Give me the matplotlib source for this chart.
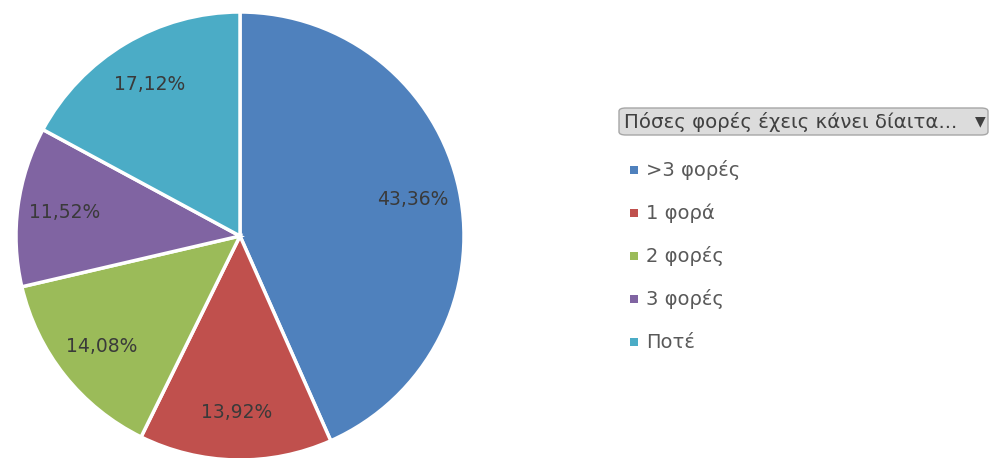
import matplotlib
matplotlib.use("Agg")
import matplotlib.pyplot as plt
from matplotlib.patches import FancyBboxPatch, Rectangle

# survey answers and their shares (%)
categories = [">3 φορές", "1 φορά", "2 φορές", "3 φορές", "Ποτέ"]
shares = [43.36, 13.92, 14.08, 11.52, 17.12]
colors = ["#4F81BD", "#C0504D", "#9BBB59", "#8064A2", "#4BACC6"]
filter_title = "Πόσες φορές έχεις κάνει δίαιτα..."

plt.rcParams["font.family"] = ["DejaVu Sans"]

W, H = 990, 458
fig = plt.figure(figsize=(W / 100, H / 100), dpi=100)
fig.patch.set_facecolor("white")


def fx(px):
    return px / W


def fy(py):
    return 1 - py / H


# pie: centre about (240, 236) px, radius about 224 px
ax = fig.add_axes([fx(16), fy(460), 448 / W, 448 / H])
wedges, texts, autotexts = ax.pie(
    shares, colors=colors, startangle=90, counterclock=False,
    autopct=lambda p: f"{p:.2f}%".replace(".", ","),
    pctdistance=0.79, radius=1.0,
    wedgeprops=dict(edgecolor="white", linewidth=2.5),
    textprops=dict(fontsize=13.5, color="#3a3a3a"))
ax.set_xlim(-1.0, 1.0)
ax.set_ylim(-1.0, 1.0)
ax.set_aspect("equal")
ax.axis("off")

# filter button above the legend
btn = FancyBboxPatch((fx(619), fy(135)), fx(988) - fx(619), fy(108) - fy(135),
                     boxstyle="round,pad=0,rounding_size=0.007",
                     transform=fig.transFigure, facecolor="#dcdcdc",
                     edgecolor="#a6a6a6", linewidth=1.0)
fig.add_artist(btn)
fig.text(fx(624), fy(122), filter_title, fontsize=14.2, color="#404040",
         va="center", ha="left")
fig.text(fx(980), fy(121), "▼", fontsize=10, color="#404040",
         va="center", ha="center")

# legend entries
y0, step = 170, 43
for i, (lab, col) in enumerate(zip(categories, colors)):
    y = y0 + i * step
    fig.add_artist(Rectangle((fx(630), fy(y + 4)), 8 / W, 8 / H,
                             transform=fig.transFigure, facecolor=col,
                             edgecolor="none"))
    fig.text(fx(646), fy(y), lab, fontsize=14, color="#595959",
             va="center", ha="left")

fig.savefig("out.png", dpi=100)
